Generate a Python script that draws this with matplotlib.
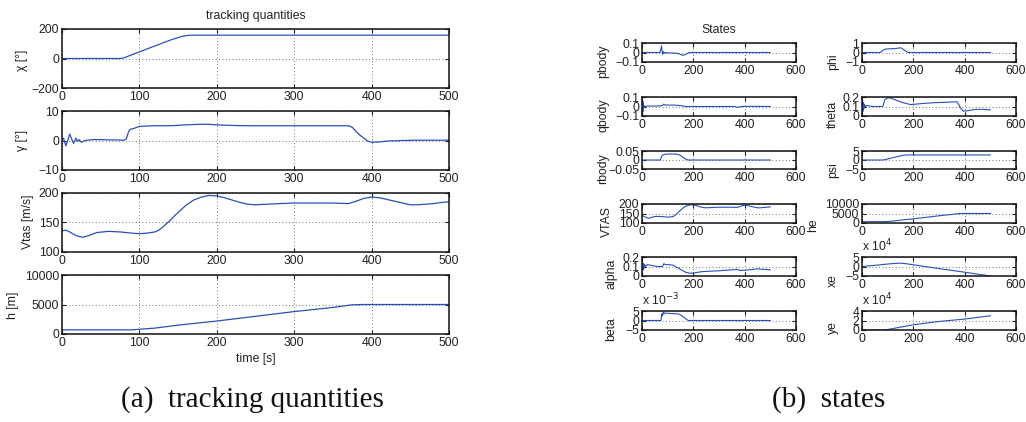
import matplotlib
matplotlib.use("Agg")
import matplotlib.pyplot as plt
import numpy as np

# ---------------- data ----------------
# left panel: tracking quantities
chi_t = [0, 75, 80, 90, 100, 120, 140, 155, 162, 168, 500]
chi_v = [0, 0, 4, 25, 45, 85, 125, 150, 156, 158, 158]

gam_t = [0, 2, 5, 8, 10, 12, 15, 18, 20, 22, 25, 28, 30, 40, 50, 60, 70, 80, 83, 86, 88, 92,
         100, 120, 140, 160, 180, 190, 200, 220, 240, 260, 280, 300, 320, 340, 360, 370, 375,
         380, 385, 390, 395, 400, 410, 420, 440, 460, 480, 500]
gam_v = [0, 0.8, -1.8, 0.5, 2.2, 0.8, -1.0, 0.8, -0.3, 0.3, -0.6, -0.2, 0, 0.3, 0.3, 0.2, 0.2,
         0.1, 0.5, 3.0, 3.8, 4.0, 4.8, 5.0, 5.0, 5.3, 5.5, 5.5, 5.3, 5.1, 5.0, 5.0, 5.0, 5.0, 5.0,
         5.0, 5.0, 5.0, 4.5, 3.0, 1.8, 0.8, -0.2, -0.6, -0.5, -0.2, 0, 0.1, 0.1, 0.1]

vtas_t = [0, 5, 10, 15, 20, 27, 35, 45, 60, 75, 90, 100, 110, 120, 125, 130, 135, 140, 145,
          150, 155, 160, 170, 180, 190, 200, 210, 220, 230, 240, 250, 265, 280, 300, 330, 350,
          370, 380, 390, 400, 410, 420, 430, 440, 450, 460, 470, 480, 490, 500]
vtas_v = [136, 137, 134, 130, 127, 125, 128, 133, 135, 134, 132, 131, 132, 134, 137, 142, 148,
          154, 161, 167, 173, 179, 188, 193, 196, 195, 192, 188, 184, 181, 180, 181, 182, 183,
          183, 183, 182, 186, 191, 193, 192, 189, 186, 183, 180, 180, 181, 182, 184, 185]

h_t = [0, 90, 100, 120, 150, 200, 250, 300, 350, 375, 390, 500]
h_v = [700, 700, 800, 1000, 1500, 2200, 3000, 3800, 4500, 4950, 5000, 5000]

# right panel: states
pb_t = [0, 70, 73, 76, 78, 80, 83, 86, 90, 100, 120, 140, 150, 160, 170, 180, 190, 500]
pb_v = [0, 0, 0.03, 0.07, 0.02, -0.02, 0.01, -0.01, 0, -0.005, -0.005, -0.01, -0.02, -0.03,
        -0.02, -0.005, 0, 0]

qb_t = [0, 1, 2, 3, 4, 5, 6, 8, 10, 15, 20, 40, 60, 80, 85, 90, 100, 120, 140, 150, 160, 170,
        180, 360, 370, 380, 390, 400, 500]
qb_v = [0, 0.08, -0.1, 0.06, -0.05, 0.03, -0.02, 0.01, -0.005, 0.003, 0.005, 0.005, 0.005, 0.01,
        0.025, 0.015, 0.015, 0.015, 0.012, 0.01, 0.005, 0, 0, 0, -0.008, -0.005, 0, 0.002, 0]

rb_t = [0, 72, 76, 80, 90, 100, 120, 140, 150, 160, 170, 180, 500]
rb_v = [0, 0, 0.02, 0.028, 0.032, 0.033, 0.033, 0.032, 0.025, 0.015, 0.005, 0, 0]

al_t = [0, 2, 4, 6, 8, 10, 14, 20, 40, 60, 80, 85, 90, 100, 120, 130, 150, 170, 185, 200, 230,
        260, 300, 350, 370, 380, 400, 450, 500]
al_v = [0.1, 0.14, 0.06, 0.13, 0.08, 0.12, 0.1, 0.12, 0.11, 0.1, 0.1, 0.13, 0.12, 0.12, 0.115,
        0.1, 0.07, 0.04, 0.03, 0.03, 0.045, 0.05, 0.055, 0.065, 0.07, 0.06, 0.06, 0.075, 0.065]

be_t = [0, 74, 77, 80, 83, 86, 90, 100, 120, 140, 150, 160, 170, 180, 500]
be_v = [0, 0, 0.0035, 0.0025, 0.0045, 0.0035, 0.004, 0.0038, 0.0036, 0.0035, 0.003, 0.002,
        0.001, 0, 0]

phi_t = [0, 72, 80, 90, 100, 120, 140, 150, 160, 170, 180, 500]
phi_v = [0, 0, 0.2, 0.35, 0.38, 0.4, 0.45, 0.5, 0.35, 0.15, 0, 0]

th_t = [0, 2, 4, 6, 8, 10, 14, 20, 40, 60, 80, 84, 88, 100, 110, 130, 160, 190, 230, 280, 330,
        370, 375, 385, 395, 410, 440, 470, 500]
th_v = [0.1, 0.16, 0.05, 0.14, 0.08, 0.12, 0.1, 0.11, 0.1, 0.1, 0.1, 0.12, 0.17, 0.19, 0.19,
        0.17, 0.14, 0.12, 0.13, 0.14, 0.145, 0.15, 0.13, 0.08, 0.05, 0.055, 0.07, 0.07, 0.065]

psi_t = [0, 80, 90, 120, 150, 170, 500]
psi_v = [0, 0, 0.2, 1.3, 2.3, 2.8, 2.8]

xe_t = [0, 50, 100, 130, 150, 170, 200, 300, 400, 500]
xe_v = [0, 6000, 13000, 16500, 17500, 15000, 9000, -11000, -30000, -50000]

ye_t = [0, 90, 120, 150, 200, 300, 400, 500]
ye_v = [0, 0, 3000, 6000, 11000, 18000, 23000, 30000]

# tick labels
left_xticks = [0, 100, 200, 300, 400, 500]
right_xticks = [0, 200, 400, 600]

# ---------------- figure ----------------
W, H = 1026, 422
fig = plt.figure(figsize=(W / 100, H / 100), dpi=100)
FONT = "Liberation Sans"
plt.rcParams["font.family"] = [FONT, "DejaVu Sans"]
FS = 8.8
LC = "#2b4fb8"


def px_axes(x0, y0, x1, y1):
    return fig.add_axes([x0 / W, 1 - y1 / H, (x1 - x0) / W, (y1 - y0) / H])


def style(ax, xlim, xticks, ylim, yticks, ylabels=None):
    ax.set_xlim(*xlim)
    ax.set_ylim(*ylim)
    ax.set_xticks(xticks)
    ax.set_xticklabels([str(v) for v in xticks])
    ax.set_yticks(yticks)
    if ylabels is None:
        ylabels = [str(v) for v in yticks]
    ax.set_yticklabels(ylabels)
    ax.tick_params(direction="in", top=True, right=True, length=3, width=0.8,
                   labelsize=FS, pad=2, colors="#222222")
    for s in ax.spines.values():
        s.set_linewidth(1.1)
        s.set_color("#111111")
    ax.grid(True, color="#444444", linestyle=(0, (1, 3)), linewidth=0.6)


def ylab(ax, text, cx, cy, box):
    x0, y0, x1, y1 = box
    ax.set_ylabel(text, fontsize=FS, va="center", ha="center", color="#222222")
    ax.yaxis.set_label_coords((cx - x0) / (x1 - x0), (y1 - cy) / (y1 - y0))


# left panel
lx0, lx1 = 62, 449
left_rows = [(29, 88), (111, 170), (193, 252), (275, 334)]
left_data = [
    (chi_t, chi_v, (-200, 200), [-200, 0, 200], ["\u2212200", "0", "200"], "\u03c7 [\u00b0]", 22, 60),
    (gam_t, gam_v, (-10, 10), [-10, 0, 10], ["\u221210", "0", "10"], "\u03b3 [\u00b0]", 22, 140),
    (vtas_t, vtas_v, (100, 200), [100, 150, 200], None, "Vtas [m/s]", 28, 222),
    (h_t, h_v, (0, 10000), [0, 5000, 10000], None, "h [m]", 13, 305),
]
for (y0, y1), (t, v, yl, yt, ytl, lab, cx, cy) in zip(left_rows, left_data):
    box = (lx0, y0, lx1, y1)
    ax = px_axes(*box)
    ax.plot(t, v, color=LC, lw=0.9)
    style(ax, (0, 500), left_xticks, yl, yt, ytl)
    ylab(ax, lab, cx, cy, box)

fig.text(256 / W, 1 - 16.5 / H, "tracking quantities", ha="center", va="center",
         fontsize=FS, color="#222222")
fig.text(256 / W, 1 - 359 / H, "time [s]", ha="center", va="center", fontsize=FS,
         color="#222222")

# right panel
rows = [(43, 62), (97, 116), (151, 169), (204, 223), (257, 276), (311, 330)]
colA = (642, 796)
colB = (862, 1016)

states_A = [
    (pb_t, pb_v, 1, (-0.1, 0.1), [-0.1, 0, 0.1], ["\u22120.1", "0", "0.1"], "pbody", 603, 61),
    (qb_t, qb_v, 1, (-0.1, 0.1), [-0.1, 0, 0.1], ["\u22120.1", "0", "0.1"], "qbody", 603, 115),
    (rb_t, rb_v, 1, (-0.05, 0.05), [-0.05, 0, 0.05], ["\u22120.05", "0", "0.05"], "rbody", 603, 169),
    (vtas_t, vtas_v, 1, (100, 200), [100, 150, 200], ["100", "150", "200"], "VTAS", 607, 222),
    (al_t, al_v, 1, (0, 0.2), [0, 0.1, 0.2], ["0", "0.1", "0.2"], "alpha", 611, 274),
    (be_t, be_v, 1e-3, (-5, 5), [-5, 0, 5], ["\u22125", "0", "5"], "beta", 611, 329),
]
states_B = [
    (phi_t, phi_v, 1, (-1, 1), [-1, 0, 1], ["\u22121", "0", "1"], "phi", 833, 62),
    (th_t, th_v, 1, (0, 0.2), [0, 0.1, 0.2], ["0", "0.1", "0.2"], "theta", 833, 114),
    (psi_t, psi_v, 1, (-5, 5), [-5, 0, 5], ["\u22125", "0", "5"], "psi", 833, 170),
    (h_t, h_v, 1, (0, 10000), [0, 5000, 10000], ["0", "5000", "10000"], "he", 813, 225),
    (xe_t, xe_v, 1e4, (-5, 5), [-5, 0, 5], ["\u22125", "0", "5"], "xe", 833, 281),
    (ye_t, ye_v, 1e4, (0, 4), [0, 2, 4], ["0", "2", "4"], "ye", 833, 328),
]

for (cx0, cx1), states in ((colA, states_A), (colB, states_B)):
    for (y0, y1), (t, v, scale, yl, yt, ytl, lab, lcx, lcy) in zip(rows, states):
        box = (cx0, y0, cx1, y1)
        ax = px_axes(*box)
        ax.plot(t, np.asarray(v, dtype=float) / scale, color=LC, lw=0.8)
        style(ax, (0, 600), right_xticks, yl, yt, ytl)
        ylab(ax, lab, lcx, lcy, box)
        if scale != 1:
            exp = int(round(np.log10(scale)))
            ax.text(0.0, 1.12, "x 10$^{%d}$" % exp, transform=ax.transAxes, ha="left",
                    va="bottom", fontsize=FS, color="#222222")

fig.text(719 / W, 1 - 30 / H, "States", ha="center", va="center", fontsize=FS,
         color="#222222")

# captions
fig.text(252 / W, 1 - 400 / H, "(a)  tracking quantities", ha="center", va="center",
         fontsize=21, family="Liberation Serif", color="#111111")
fig.text(829 / W, 1 - 400 / H, "(b)  states", ha="center", va="center",
         fontsize=21, family="Liberation Serif", color="#111111")

fig.savefig("out.png", dpi=100)
